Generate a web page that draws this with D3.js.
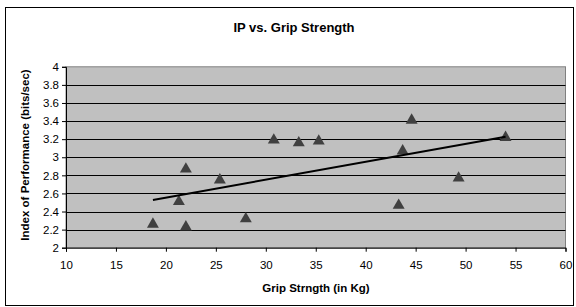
<!DOCTYPE html>
<html>
<head>
<meta charset="utf-8">
<script src="https://cdn.jsdelivr.net/npm/d3@7"></script>
<style>
  body { margin: 0; background: #fff; }
  svg { display: block; font-family: "Liberation Sans", Arial, sans-serif; }
</style>
</head>
<body>
<svg width="576" height="307"></svg>
<script>
    'use strict';

    // grip strength (kg) and index of performance (bits/sec)
    const gripStrength = [18.7, 21.3, 22.0, 22.0, 25.4, 28.0, 30.8, 33.3, 35.3, 44.6, 43.7, 43.3, 49.3, 54.0];
    const ipValues     = [2.27, 2.52, 2.88, 2.24, 2.76, 2.33, 3.20, 3.17, 3.19, 3.42, 3.08, 2.48, 2.78, 3.23];
    const xTicks = [10, 15, 20, 25, 30, 35, 40, 45, 50, 55, 60];
    const yTicks = [2, 2.2, 2.4, 2.6, 2.8, 3, 3.2, 3.4, 3.6, 3.8, 4];

    const svg = d3.select('svg');
    const margin = {left: 66, right: 10.5, top: 66.8, bottom: 59.3};
    const W = 576, H = 307;

    const x = d3.scaleLinear().domain([10, 60]).range([margin.left, W - margin.right]);
    const y = d3.scaleLinear().domain([2, 4]).range([H - margin.bottom, margin.top]);

    // outer frame
    svg.append('rect')
        .attr('x', 5.5).attr('y', 7.5)
        .attr('width', 568).attr('height', 298)
        .attr('fill', '#fff').attr('stroke', '#000');

    // plot area
    svg.append('rect')
        .attr('x', x(10)).attr('y', y(4))
        .attr('width', x(60) - x(10)).attr('height', y(2) - y(4))
        .attr('fill', '#c0c0c0').attr('stroke', '#808080');

    svg.append('g').selectAll('line').data(yTicks.filter(d => d > 2 && d < 4))
        .enter().append('line')
        .attr('x1', x(10)).attr('x2', x(60))
        .attr('y1', d => Math.round(y(d)) + 0.5).attr('y2', d => Math.round(y(d)) + 0.5)
        .attr('stroke', '#000');

    const yAxis = svg.append('g')
        .attr('transform', `translate(${x(10)},0)`)
        .call(d3.axisLeft(y).tickValues(yTicks).tickSize(4).tickPadding(3).tickFormat(d3.format('')));
    const xAxis = svg.append('g')
        .attr('transform', `translate(0,${y(2)})`)
        .call(d3.axisBottom(x).tickValues(xTicks).tickSize(4).tickPadding(9));

    [xAxis, yAxis].forEach(a => {
        a.select('.domain').attr('stroke', '#000');
        a.selectAll('text').attr('font-size', 11.5).attr('fill', '#000')
            .attr('font-family', '"Liberation Sans", Arial, sans-serif');
    });

    // points
    const pts = gripStrength.map((g, i) => [g, ipValues[i]]);
    svg.append('g').selectAll('path').data(pts)
        .enter().append('path')
        .attr('d', d3.symbol().type(d3.symbolTriangle).size(62))
        .attr('transform', d => `translate(${x(d[0])},${y(d[1]) + 1})`)
        .attr('fill', '#404040');

    // linear trend line
    const mx = d3.mean(gripStrength), my = d3.mean(ipValues);
    const slope = d3.sum(pts, d => (d[0] - mx) * (d[1] - my)) / d3.sum(pts, d => (d[0] - mx) ** 2);
    const xmin = d3.min(gripStrength), xmax = d3.max(gripStrength);
    svg.append('line')
        .attr('x1', x(xmin)).attr('y1', y(my + slope * (xmin - mx)))
        .attr('x2', x(xmax)).attr('y2', y(my + slope * (xmax - mx)))
        .attr('stroke', '#000').attr('stroke-width', 2);

    // titles
    svg.append('text')
        .attr('x', 294).attr('y', 32)
        .attr('text-anchor', 'middle')
        .attr('font-size', 13).attr('font-weight', 'bold')
        .text('IP vs. Grip Strength');

    svg.append('text')
        .attr('x', 316).attr('y', 292)
        .attr('text-anchor', 'middle')
        .attr('font-size', 11.5).attr('font-weight', 'bold')
        .text('Grip Strngth (in Kg)');

    svg.append('text')
        .attr('transform', 'translate(29,155) rotate(-90)')
        .attr('text-anchor', 'middle')
        .attr('font-size', 11.5).attr('font-weight', 'bold')
        .text('Index of Performance (bits/sec)');
</script>
</body>
</html>
